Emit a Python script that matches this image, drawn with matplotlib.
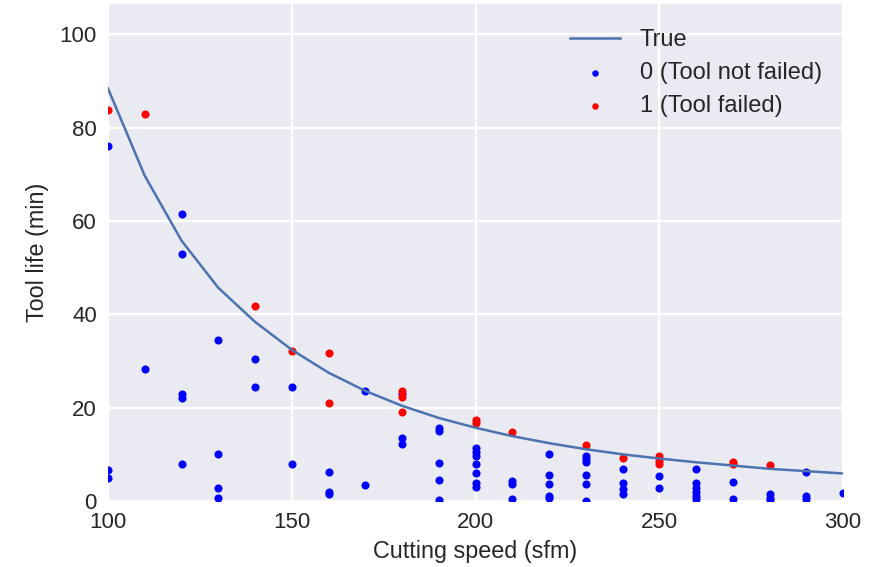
import matplotlib
matplotlib.use("Agg")
import matplotlib.pyplot as plt

# True curve
speed_line = [100, 110, 120, 130, 140, 150, 160, 170, 180, 190, 200,
              210, 220, 230, 240, 250, 260, 270, 280, 290, 300]
life_line = [88.4, 69.7, 55.8, 45.7, 38.4, 32.4, 27.5, 23.6, 20.4, 17.8, 15.7,
             13.9, 12.4, 11.1, 10.0, 9.1, 8.3, 7.6, 6.9, 6.4, 5.9]

# Tool not failed (0)
x0 = [100, 100, 100,
      110,
      120, 120, 120, 120, 120,
      130, 130, 130, 130,
      140, 140,
      150, 150,
      160, 160, 160,
      170, 170,
      180, 180, 180,
      190, 190, 190, 190, 190,
      200, 200, 200, 200, 200, 200, 200,
      210, 210, 210,
      220, 220, 220, 220, 220,
      230, 230, 230, 230, 230, 230,
      240, 240, 240, 240,
      250, 250,
      260, 260, 260, 260, 260, 260,
      270, 270,
      280, 280, 280,
      290, 290, 290,
      300]
y0 = [76.0, 6.6, 4.9,
      28.3,
      61.6, 53.0, 22.9, 22.0, 8.0,
      34.5, 10.1, 2.8, 0.7,
      30.5, 24.5,
      24.5, 8.0,
      6.2, 1.9, 1.4,
      23.6, 3.5,
      23.0, 13.6, 12.2,
      15.6, 15.0, 8.2, 4.5, 0.3,
      11.4, 10.5, 9.7, 7.9, 6.0, 3.8, 3.1,
      4.3, 3.7, 0.4,
      10.0, 5.6, 3.7, 1.0, 0.6,
      9.7, 9.0, 8.4, 5.6, 3.7, 0.0,
      6.8, 3.9, 2.6, 1.5,
      5.4, 2.8,
      6.9, 3.9, 2.8, 1.9, 1.1, 0.4,
      4.1, 0.4,
      1.5, 0.7, 0.2,
      6.2, 1.1, 0.4,
      1.7]

# Tool failed (1)
x1 = [100, 110, 140, 150, 160, 160, 180, 180, 180, 200, 200,
      210, 230, 240, 250, 250, 250, 270, 270, 280]
y1 = [83.7, 83.0, 41.8, 32.2, 31.8, 21.0, 23.6, 22.2, 19.1, 17.4, 16.8,
      14.8, 11.9, 9.3, 9.7, 8.6, 7.9, 8.4, 8.0, 7.7]

x_ticks = [100, 150, 200, 250, 300]
y_ticks = [0, 20, 40, 60, 80, 100]

plt.rcParams['font.family'] = ['Liberation Sans', 'DejaVu Sans']
text_color = '#262626'

fig = plt.figure(figsize=(8.86, 5.67), dpi=100)
ax = fig.add_axes([108/886, 1-501/567, (843-108)/886, (501-4)/567])
ax.set_facecolor('#EAEAF2')
for s in ax.spines.values():
    s.set_visible(False)
ax.grid(True, color='white', linewidth=1.6)
ax.set_axisbelow(True)

ax.plot(speed_line, life_line, color='#4C72B0', linewidth=1.8, label='True')
ax.scatter(x0, y0, s=34, color='blue', linewidths=0, label='0 (Tool not failed)')
ax.scatter(x1, y1, s=34, color='red', linewidths=0, label='1 (Tool failed)')

ax.set_xlim(100, 300)
ax.set_ylim(0, 106.5)
ax.set_xticks(x_ticks)
ax.set_yticks(y_ticks)
ax.tick_params(length=0, pad=8, labelsize=16, colors=text_color)
ax.set_xlabel('Cutting speed (sfm)', fontsize=16.8, color=text_color, labelpad=5)
ax.set_ylabel('Tool life (min)', fontsize=16.8, color=text_color, labelpad=8)

leg = ax.legend(loc='upper right', frameon=False, fontsize=17, markerscale=0.8,
                labelspacing=0.45, handlelength=2.1, handletextpad=0.85,
                borderaxespad=0.3, bbox_to_anchor=(0.994, 0.982))
for t in leg.get_texts():
    t.set_color(text_color)

fig.savefig('out.png', dpi=100)
